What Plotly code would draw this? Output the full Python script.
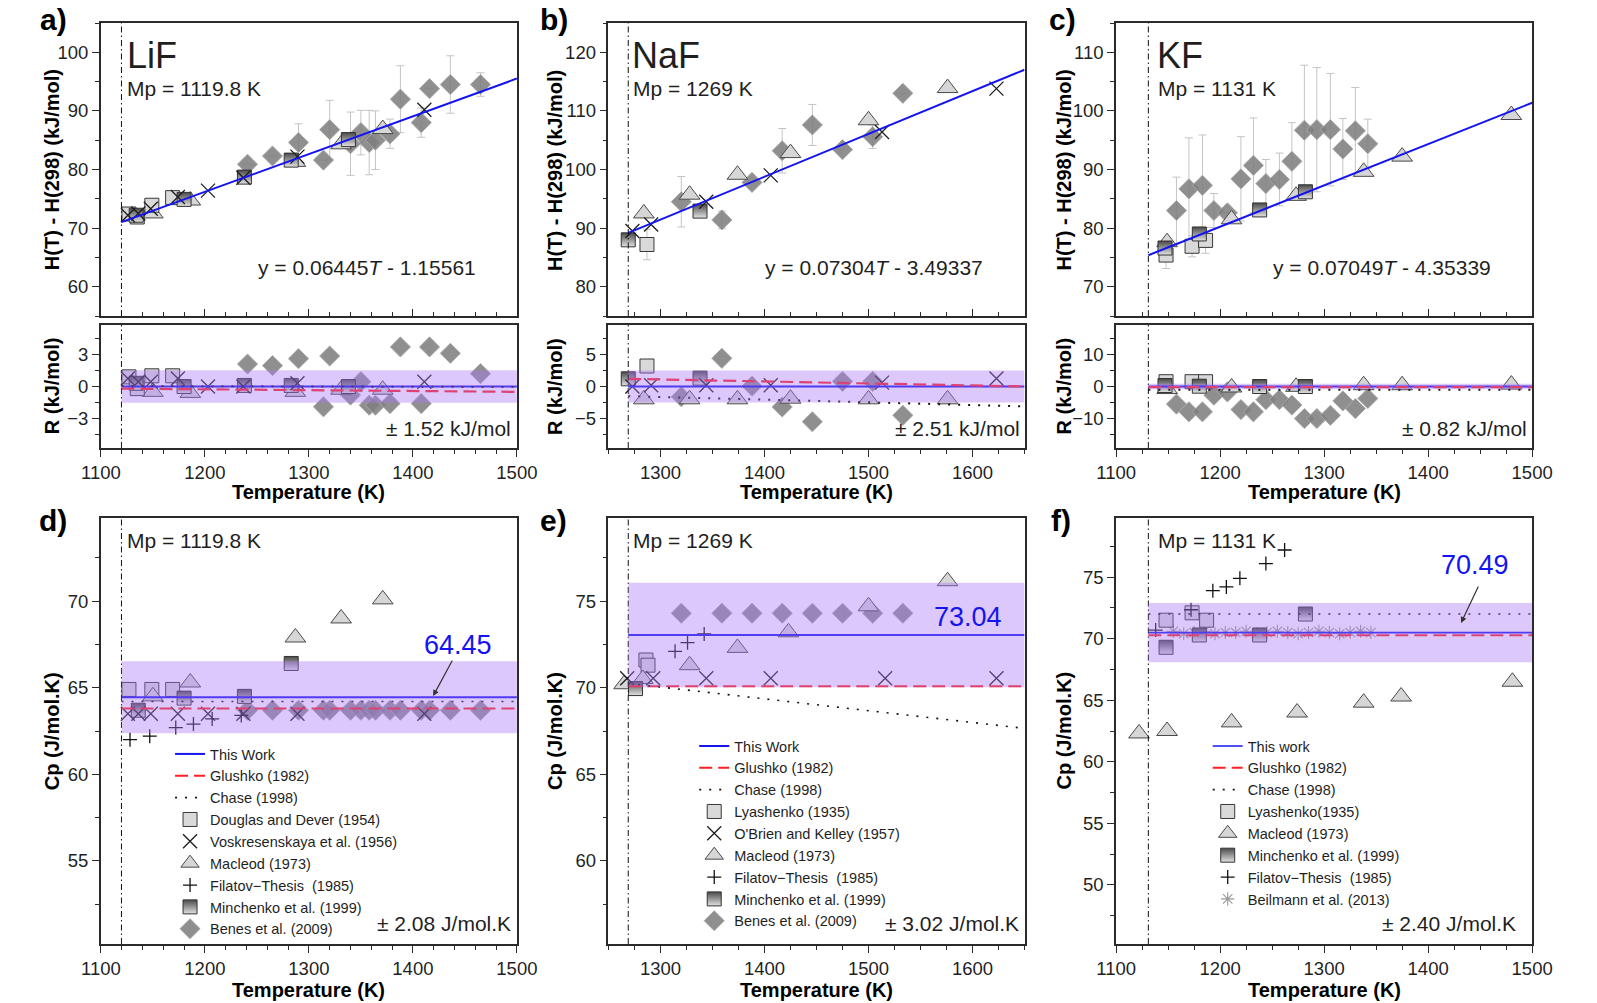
import plotly.graph_objects as go

W, H = 1597, 1003
FONT = 'Arial, "Liberation Sans", sans-serif'
INK = '#1f1f1f'
AX = '#2b2b2b'
BLUE = '#1414f0'
RED = '#ff2020'
BAND = 'rgba(168,118,243,0.40)'
ERR = '#c4c4c4'

# ---------------- LiF ----------------
LIF_MP = 1119.8
LIF_SLOPE, LIF_ICPT = 0.06445, -1.15561
LIF_H_UNC = 1.52
LIF_CP, LIF_CP_UNC = 64.45, 2.08
LIF_CP_GLUSHKO, LIF_CP_CHASE = 63.8, 64.2
LIF_R_GLUSHKO = [-0.2, -0.5]
LIF_R_CHASE = [0.05, -0.05]

lif_dd_T = [1127, 1135, 1149, 1169]
lif_dd_H = [72.4, 71.9, 73.9, 75.2]
lif_dd_R = [0.9, -0.2, 1.0, 1.0]
lif_dd_cpT = [1127, 1149, 1169]
lif_dd_cp = [64.9, 64.9, 64.9]

lif_vo_T = [1126, 1136, 1148, 1174, 1203, 1237, 1289, 1411]
lif_vo_H = [72.2, 72.5, 73.3, 75.3, 76.4, 78.6, 82.2, 90.2]
lif_vo_R = [0.75, 0.45, 0.45, 0.75, 0.0, 0.0, 0.3, 0.45]
lif_vo_cp = [63.5, 63.5, 63.5, 63.5, 63.5, 63.5, 63.5, 63.5]

lif_ma_T = [1150, 1186, 1287, 1331, 1371]
lif_ma_H = [72.5, 74.7, 81.3, 84.3, 86.9]
lif_ma_R = [-0.5, -0.6, -0.5, -0.3, -0.3]
lif_ma_cp = [64.5, 65.3, 67.9, 69.0, 70.1]

lif_fi_T = [1128, 1147, 1172, 1189, 1207, 1235]
lif_fi_cp = [62.0, 62.2, 62.7, 62.9, 63.2, 63.4]

lif_mi_T = [1134, 1180, 1238, 1283, 1338]
lif_mi_H = [72.2, 74.9, 78.7, 81.6, 85.1]
lif_mi_R = [0.3, 0.0, 0.1, 0.1, 0.0]
lif_mi_cpT = [1136, 1180, 1238, 1283]
lif_mi_cp = [63.7, 64.4, 64.5, 66.4]

lif_be_T = [1241, 1265, 1290, 1314, 1320, 1340, 1350, 1358, 1364, 1378, 1388, 1408, 1416, 1436, 1465]
lif_be_H = [80.9, 82.3, 84.6, 81.6, 86.8, 84.4, 86.3, 84.6, 85.0, 86.1, 92.0, 88.0, 93.8, 94.5, 94.5]
lif_be_err = [0, 0, 3.2, 0, 5.0, 5.4, 3.8, 5.5, 5.0, 2.5, 5.7, 2.5, 0, 4.9, 2.0]
lif_be_R = [2.1, 1.95, 2.6, -1.9, 2.85, -0.8, 0.45, -1.75, -1.75, -1.6, 3.7, -1.6, 3.7, 3.1, 1.2]
lif_be_cp = [63.7, 63.7, 63.7, 63.7, 63.7, 63.7, 63.7, 63.7, 63.7, 63.7, 63.7, 63.7, 63.7, 63.7, 63.7]

# ---------------- NaF ----------------
NAF_MP = 1269
NAF_SLOPE, NAF_ICPT = 0.07304, -3.49337
NAF_H_UNC = 2.51
NAF_CP, NAF_CP_UNC = 73.04, 3.02
NAF_CP_GLUSHKO = [70.08, 70.08]
NAF_CP_CHASE = [70.25, 67.65]
NAF_R_GLUSHKO = [1.2, 0.0]
NAF_R_CHASE = [-1.5, -3.1]

naf_ly_T = [1287]
naf_ly_H = [87.2]
naf_ly_err = [2.6]
naf_ly_R = [3.2]
naf_ly_cpT = [1286, 1288]
naf_ly_cp = [71.6, 71.3]

naf_ob_T = [1273, 1291, 1344, 1406, 1513, 1623]
naf_ob_H = [89.5, 90.6, 94.5, 99.0, 106.4, 113.8]
naf_ob_R = [0.0, 0.2, 0.2, 0.2, 0.6, 1.25]
naf_ob_cpT = [1268, 1293, 1344, 1406, 1516, 1623]
naf_ob_cp = [70.55, 70.55, 70.55, 70.55, 70.55, 70.55]

naf_ma_T = [1284, 1328, 1374, 1425, 1500, 1576]
naf_ma_H = [92.5, 95.7, 99.1, 102.8, 108.4, 113.9]
naf_ma_R = [-2.0, -2.0, -2.0, -1.9, -2.0, -2.0]
naf_ma_cpT = [1265, 1283, 1328, 1374, 1423, 1500, 1576]
naf_ma_cp = [70.2, 70.5, 71.3, 72.3, 73.2, 74.7, 76.15]

naf_fi_T = [1314, 1326, 1342]
naf_fi_cp = [72.1, 72.6, 73.1]

naf_mi_T = [1269, 1338]
naf_mi_H = [88.0, 92.9]
naf_mi_R = [1.2, 1.3]
naf_mi_cpT = [1276]
naf_mi_cp = [69.95]

naf_be_T = [1320, 1359, 1388, 1417, 1446, 1475, 1504, 1533]
naf_be_H = [94.5, 91.4, 97.8, 103.2, 107.6, 103.4, 105.6, 113.0]
naf_be_err = [4.3, 1.5, 0, 3.8, 3.5, 0, 2.0, 0]
naf_be_R = [-1.6, 4.4, 0.05, -3.2, -5.5, 0.8, 0.8, -4.5]
naf_be_cp = [74.3, 74.3, 74.3, 74.3, 74.3, 74.3, 74.3, 74.3]

# ---------------- KF ----------------
KF_MP = 1131
KF_SLOPE, KF_ICPT = 0.07049, -4.35339
KF_H_UNC = 0.82
KF_CP, KF_CP_UNC = 70.49, 2.40
KF_CP_GLUSHKO, KF_CP_CHASE = 70.27, 72.0
KF_R_GLUSHKO = [-0.2, -0.2]
KF_R_CHASE = [-1.0, -1.0]

kf_ly_T = [1148, 1173, 1186]
kf_ly_H = [75.4, 76.9, 77.9]
kf_ly_err = [2.3, 1.8, 2.2]
kf_ly_R = [1.5, 1.5, 1.5]
kf_ly_cpT = [1148, 1173, 1187]
kf_ly_cp = [71.5, 72.1, 71.5]

kf_ma_T = [1149, 1211, 1273, 1338, 1375, 1480]
kf_ma_H = [77.6, 81.5, 85.5, 89.6, 92.2, 99.3]
kf_ma_R = [-0.8, -0.3, -0.1, 0.4, 0.4, 0.6]
kf_ma_cpT = [1122, 1149, 1211, 1274, 1338, 1374, 1481]
kf_ma_cp = [62.3, 62.5, 63.2, 64.0, 64.8, 65.3, 66.5]

kf_mi_T = [1147, 1180, 1238, 1282]
kf_mi_H = [76.6, 79.0, 83.1, 86.2]
kf_mi_R = [0.3, 0.1, 0.0, 0.0]
kf_mi_cpT = [1148, 1180, 1238, 1282]
kf_mi_cp = [69.3, 70.3, 70.3, 72.0]

kf_fi_T = [1138, 1172, 1193, 1206, 1219, 1244, 1262]
kf_fi_cp = [70.7, 72.35, 73.9, 74.2, 74.9, 76.1, 77.2]

kf_bei_T = [1155, 1165, 1175, 1185, 1195, 1205, 1215, 1225, 1235, 1245,
            1255, 1265, 1275, 1285, 1295, 1305, 1315, 1325, 1335, 1345]
kf_bei_cp = [70.6, 70.4, 70.5, 70.6, 70.4, 70.5, 70.5, 70.6, 70.4, 70.5,
             70.6, 70.5, 70.4, 70.5, 70.6, 70.5, 70.4, 70.5, 70.6, 70.5]

kf_be_T = [1158, 1170, 1183, 1194, 1207, 1220, 1232, 1244, 1257, 1269, 1281, 1293, 1306, 1318, 1330, 1342]
kf_be_H = [83.0, 86.7, 87.3, 83.0, 82.6, 88.4, 90.7, 87.6, 88.3, 91.4, 96.7, 96.8, 96.8, 93.5, 96.6, 94.4]
kf_be_err = [5.7, 8.7, 8.6, 2.9, 0, 7.2, 8.1, 4.1, 4.5, 6.6, 11.1, 10.6, 9.6, 5.2, 7.4, 4.2]
kf_be_R = [-5.5, -7.9, -7.9, -2.7, -1.7, -7.2, -7.9, -4.1, -4.1, -5.8, -10.0, -10.0, -9.0, -4.5, -6.9, -3.75]

# ---------------- layout geometry (pixels) ----------------
COLS = [
    dict(x=(83, 510), xr=[1100, 1500], minor=20),
    dict(x=(604, 1031), xr=[1250, 1650], minor=25),
    dict(x=(1125, 1552), xr=[1100, 1500], minor=25),
]
ROWS = [(23, 316), (325, 448), (518, 944)]
Y_SPEC = {
    1: ([55, 105], 10, 5), 2: ([75, 125], 10, 5), 3: ([65, 115], 10, 5),
    4: ([-5.75, 5.75], 3, 1.5), 5: ([-9.6, 9.6], 5, 2.5), 6: ([-19.2, 19.2], 10, 5),
    7: ([50.2, 74.8], 5, 2.5), 8: ([55.2, 79.8], 5, 2.5), 9: ([45.2, 79.8], 5, 2.5),
}


def px(x):
    return x / W


def py(y):
    return 1 - y / H


def ids(n):
    s = '' if n == 1 else str(n)
    return 'x' + s, 'y' + s


STY = {
    'sq': dict(symbol='square', size=14, color='#d9d9d9', line=dict(color='#383838', width=1)),
    'x': dict(symbol='x-thin', size=14, color='#1e1e1e', line=dict(color='#1e1e1e', width=1.3)),
    'tri': dict(symbol='triangle-up', size=18, color='#d6d6d6', line=dict(color='#4a4a4a', width=1)),
    'plus': dict(symbol='cross-thin', size=10, color='#111111', line=dict(color='#111111', width=1.3)),
    'half': dict(symbol='square', size=14, color='#4a4a4a',
                 gradient=dict(type='vertical', color='#e2e2e2'), line=dict(color='#333333', width=1)),
    'dia': dict(symbol='diamond', size=15.5, color='rgba(128,128,128,0.88)',
                line=dict(color='rgba(170,170,170,0.9)', width=1)),
    'ast': dict(symbol='asterisk-open', size=11, color='#999999', line=dict(color='#999999', width=1.1)),
}

fig = go.Figure()


def pts(n, x, y, style, name=None, legend=None, err=None, rank=None):
    xa, ya = ids(n)
    tr = go.Scatter(x=x, y=y, mode='markers', marker=STY[style], xaxis=xa, yaxis=ya,
                    name=name, showlegend=legend is not None, legend=legend or 'legend',
                    hoverinfo='skip')
    if err is not None:
        tr.error_y = dict(type='data', array=err, color=ERR, thickness=1, width=4)
    if rank is not None:
        tr.legendrank = rank
    fig.add_trace(tr)


def seg(n, x, y, color, width, dash='solid', name=None, legend=None, rank=None):
    xa, ya = ids(n)
    tr = go.Scatter(x=x, y=y, mode='lines', line=dict(color=color, width=width, dash=dash),
                    xaxis=xa, yaxis=ya, name=name, showlegend=legend is not None,
                    legend=legend or 'legend', hoverinfo='skip')
    if rank is not None:
        tr.legendrank = rank
    fig.add_trace(tr)


DASH_RED = '13px,6px'
DOTS = '2px,8px'

# ================= LiF column =================
xe = [LIF_MP, COLS[0]['xr'][1]]
pts(1, lif_be_T, lif_be_H, 'dia', err=lif_be_err)
pts(1, lif_ma_T, lif_ma_H, 'tri')
pts(1, lif_dd_T, lif_dd_H, 'sq')
pts(1, lif_mi_T, lif_mi_H, 'half')
pts(1, lif_vo_T, lif_vo_H, 'x')
seg(1, xe, [LIF_SLOPE * t + LIF_ICPT for t in xe], BLUE, 2)

pts(4, lif_be_T, lif_be_R, 'dia')
pts(4, lif_ma_T, lif_ma_R, 'tri')
pts(4, lif_dd_T, lif_dd_R, 'sq')
pts(4, lif_mi_T, lif_mi_R, 'half')
pts(4, lif_vo_T, lif_vo_R, 'x')
seg(4, xe, [0, 0], BLUE, 2)
seg(4, xe, LIF_R_GLUSHKO, RED, 2.2, DASH_RED)
seg(4, xe, LIF_R_CHASE, '#111111', 2, DOTS)

L = 'legend'
pts(7, lif_dd_cpT, lif_dd_cp, 'sq', 'Douglas and Dever (1954)', L, rank=4)
pts(7, lif_be_T, lif_be_cp, 'dia', 'Benes et al. (2009)', L, rank=9)
pts(7, lif_ma_T, lif_ma_cp, 'tri', 'Macleod (1973)', L, rank=6)
pts(7, lif_mi_cpT, lif_mi_cp, 'half', 'Minchenko et al. (1999)', L, rank=8)
pts(7, lif_vo_T, lif_vo_cp, 'x', 'Voskresenskaya et al. (1956)', L, rank=5)
pts(7, lif_fi_T, lif_fi_cp, 'plus', 'Filatov\u2212Thesis\u00a0 (1985)', L, rank=7)
seg(7, xe, [LIF_CP_GLUSHKO] * 2, RED, 2, DASH_RED, 'Glushko (1982)', L, rank=2)
seg(7, xe, [LIF_CP_CHASE] * 2, '#111111', 1.6, DOTS, 'Chase (1998)', L, rank=3)
seg(7, xe, [LIF_CP] * 2, BLUE, 2, 'solid', 'This Work', L, rank=1)

# ================= NaF column =================
xe = [NAF_MP, COLS[1]['xr'][1]]
pts(2, naf_be_T, naf_be_H, 'dia', err=naf_be_err)
pts(2, naf_ma_T, naf_ma_H, 'tri')
pts(2, naf_ly_T, naf_ly_H, 'sq', err=naf_ly_err)
pts(2, naf_mi_T, naf_mi_H, 'half')
pts(2, naf_ob_T, naf_ob_H, 'x')
seg(2, xe, [NAF_SLOPE * t + NAF_ICPT for t in xe], BLUE, 2)

pts(5, naf_be_T, naf_be_R, 'dia')
pts(5, naf_ma_T, naf_ma_R, 'tri')
pts(5, naf_ly_T, naf_ly_R, 'sq')
pts(5, naf_mi_T, naf_mi_R, 'half')
pts(5, naf_ob_T, naf_ob_R, 'x')
seg(5, xe, [0, 0], BLUE, 2)
seg(5, xe, NAF_R_GLUSHKO, RED, 2.2, DASH_RED)
seg(5, xe, NAF_R_CHASE, '#111111', 2, DOTS)

L = 'legend2'
pts(8, naf_be_T, naf_be_cp, 'dia', 'Benes et al. (2009)', L, rank=9)
pts(8, naf_ly_cpT, naf_ly_cp, 'sq', 'Lyashenko (1935)', L, rank=4)
pts(8, naf_ma_cpT, naf_ma_cp, 'tri', 'Macleod (1973)', L, rank=6)
pts(8, naf_mi_cpT, naf_mi_cp, 'half', 'Minchenko et al. (1999)', L, rank=8)
pts(8, naf_ob_cpT, naf_ob_cp, 'x', "O'Brien and Kelley (1957)", L, rank=5)
pts(8, naf_fi_T, naf_fi_cp, 'plus', 'Filatov\u2212Thesis\u00a0 (1985)', L, rank=7)
seg(8, xe, NAF_CP_GLUSHKO, RED, 2, DASH_RED, 'Glushko (1982)', L, rank=2)
seg(8, xe, NAF_CP_CHASE, '#111111', 1.6, DOTS, 'Chase (1998)', L, rank=3)
seg(8, xe, [NAF_CP] * 2, BLUE, 2, 'solid', 'This Work', L, rank=1)

# ================= KF column =================
xe = [KF_MP, COLS[2]['xr'][1]]
pts(3, kf_be_T, kf_be_H, 'dia', err=kf_be_err)
pts(3, kf_ma_T, kf_ma_H, 'tri')
pts(3, kf_ly_T, kf_ly_H, 'sq', err=kf_ly_err)
pts(3, kf_mi_T, kf_mi_H, 'half')
seg(3, xe, [KF_SLOPE * t + KF_ICPT for t in xe], BLUE, 2)

pts(6, kf_be_T, kf_be_R, 'dia')
pts(6, kf_ma_T, kf_ma_R, 'tri')
pts(6, kf_ly_T, kf_ly_R, 'sq')
pts(6, kf_mi_T, kf_mi_R, 'half')
seg(6, xe, [0, 0], BLUE, 2)
seg(6, xe, KF_R_GLUSHKO, RED, 2.2, DASH_RED)
seg(6, xe, KF_R_CHASE, '#111111', 2, DOTS)

L = 'legend3'
pts(9, kf_ma_cpT, kf_ma_cp, 'tri', 'Macleod (1973)', L, rank=5)
pts(9, kf_bei_T, kf_bei_cp, 'ast', 'Beilmann et al. (2013)', L, rank=8)
pts(9, kf_ly_cpT, kf_ly_cp, 'sq', 'Lyashenko(1935)', L, rank=4)
pts(9, kf_mi_cpT, kf_mi_cp, 'half', 'Minchenko et al. (1999)', L, rank=6)
pts(9, kf_fi_T, kf_fi_cp, 'plus', 'Filatov\u2212Thesis\u00a0 (1985)', L, rank=7)
seg(9, xe, [KF_CP_GLUSHKO] * 2, RED, 2, DASH_RED, 'Glushko (1982)', L, rank=2)
seg(9, xe, [KF_CP_CHASE] * 2, '#111111', 1.6, DOTS, 'Chase (1998)', L, rank=3)
seg(9, xe, [KF_CP] * 2, BLUE, 1.6, 'solid', 'This work', L, rank=1)

# ================= axes =================
common = dict(showline=True, linecolor=AX, linewidth=1.6, mirror=True, showgrid=False,
              zeroline=False, ticklen=7, tickwidth=1.3, tickcolor=AX,
              tickfont=dict(family=FONT, size=18.5, color=INK))
axes = {}
for r, (y0, y1) in enumerate(ROWS):
    for c, col in enumerate(COLS):
        n = r * 3 + c + 1
        s = '' if n == 1 else str(n)
        top = r == 0
        tk = 'inside' if top else 'outside'
        axes['xaxis' + s] = dict(
            domain=[px(col['x'][0]), px(col['x'][1])], range=col['xr'], anchor='y' + s,
            dtick=100, tick0=1100, ticks=tk, showticklabels=not top,
            minor=dict(dtick=col['minor'], ticks=tk, ticklen=4, tickcolor=AX, tickwidth=1.2),
            **common)
        yr, dt, mn = Y_SPEC[n]
        axes['yaxis' + s] = dict(
            domain=[py(y1), py(y0)], range=yr, anchor='x' + s, dtick=dt, tick0=0,
            ticks='outside',
            minor=dict(dtick=mn, ticks='outside', ticklen=4, tickcolor=AX, tickwidth=1.2),
            **common)

# ================= shapes =================
shapes = []
MPS = [LIF_MP, NAF_MP, KF_MP]
for r in range(3):
    for c in range(3):
        n = r * 3 + c + 1
        xa, ya = ids(n)
        shapes.append(dict(type='line', xref=xa, yref=ya + ' domain', x0=MPS[c], x1=MPS[c],
                           y0=0, y1=1, line=dict(color='#111111', width=1, dash='6px,3px,1.5px,3px')))

for c, (unc, cp, cpu) in enumerate([(LIF_H_UNC, LIF_CP, LIF_CP_UNC),
                                     (NAF_H_UNC, NAF_CP, NAF_CP_UNC),
                                     (KF_H_UNC, KF_CP, KF_CP_UNC)]):
    xmax = COLS[c]['xr'][1]
    xa, ya = ids(4 + c)
    shapes.append(dict(type='rect', xref=xa, yref=ya, x0=MPS[c], x1=xmax, y0=-unc, y1=unc,
                       fillcolor=BAND, line=dict(width=0), layer='above'))
    xa, ya = ids(7 + c)
    shapes.append(dict(type='rect', xref=xa, yref=ya, x0=MPS[c], x1=xmax, y0=cp - cpu, y1=cp + cpu,
                       fillcolor=BAND, line=dict(width=0), layer='above'))

# ================= annotations =================
ann = []


def txt(s, x, y, size=21, xanchor='left', color=INK, bold=False, angle=0):
    ann.append(dict(text=s, x=px(x), y=py(y), xref='paper', yref='paper', showarrow=False,
                    xanchor=xanchor, yanchor='middle', textangle=angle,
                    font=dict(family=FONT, size=size, color=color,
                              weight='bold' if bold else 'normal')))


for s, x, y in [('a)', 34, 19), ('b)', 548, 19), ('c)', 1070, 19),
                ('d)', 34, 520), ('e)', 548, 520), ('f)', 1068, 520)]:
    txt(s, x, y, 30, 'center', '#000000', True)

for s, x in [('LiF', 108), ('NaF', 626), ('KF', 1165)]:
    txt(s, x, 55, 36)

for s, x in [('Mp = 1119.8 K', 108), ('Mp = 1269 K', 627), ('Mp = 1131 K', 1166)]:
    txt(s, x, 89, 21)
    txt(s, x, 540, 21)

txt('y = 0.06445<i>T</i> - 1.15561', 242, 267)
txt('y = 0.07304<i>T</i> - 3.49337', 763, 267)
txt('y = 0.07049<i>T</i> - 4.35339', 1284, 267)

txt('\u00b1 1.52 kJ/mol', 506, 428, xanchor='right')
txt('\u00b1 2.51 kJ/mol', 1028, 428, xanchor='right')
txt('\u00b1 0.82 kJ/mol', 1549, 428, xanchor='right')

txt('\u00b1 2.08 J/mol.K', 506, 923, xanchor='right')
txt('\u00b1 3.02 J/mol.K', 1027, 923, xanchor='right')
txt('\u00b1 2.40 J/mol.K', 1537, 923, xanchor='right')

for col in COLS:
    xc = (col['x'][0] + col['x'][1]) / 2
    txt('Temperature (K)', xc, 492, 20, 'center', '#000000', True)
    txt('Temperature (K)', xc, 990, 20, 'center', '#000000', True)

for xc in (33, 549, 1071):
    txt('H(T) - H(298) (kJ/mol)', xc, 170, 20, 'center', '#000000', True, -90)
    txt('R (kJ/mol)', xc, 386, 20, 'center', '#000000', True, -90)
    txt('Cp (J/mol.K)', xc, 731, 20, 'center', '#000000', True, -90)

txt(f'{LIF_CP:.2f}', 450, 645, 27, 'center', BLUE)
txt(f'{NAF_CP:.2f}', 973, 617, 27, 'center', BLUE)
txt(f'{KF_CP:.2f}', 1493, 565, 27, 'center', BLUE)

for hx, hy, dx, dy in [(424, 696, 20, -37), (1479, 623, 18, -38)]:
    ann.append(dict(text='', x=px(hx), y=py(hy), xref='paper', yref='paper', showarrow=True,
                    ax=dx, ay=dy, arrowhead=2, arrowsize=1, arrowwidth=1.2, arrowcolor='#333333'))

leg_common = dict(xanchor='left', yanchor='top', bgcolor='rgba(0,0,0,0)', borderwidth=0,
                  font=dict(family=FONT, size=14.5, color=INK), tracegroupgap=0,
                  traceorder='normal')

fig.update_layout(
    width=W, height=H, autosize=False,
    margin=dict(l=0, r=0, t=0, b=0),
    paper_bgcolor='white', plot_bgcolor='white',
    font=dict(family=FONT, color=INK),
    shapes=shapes, annotations=ann,
    legend=dict(x=px(154), y=py(738), **leg_common),
    legend2=dict(x=px(692), y=py(730), **leg_common),
    legend3=dict(x=px(1219), y=py(730), **leg_common),
    **axes,
)

fig.write_html("out.html")
